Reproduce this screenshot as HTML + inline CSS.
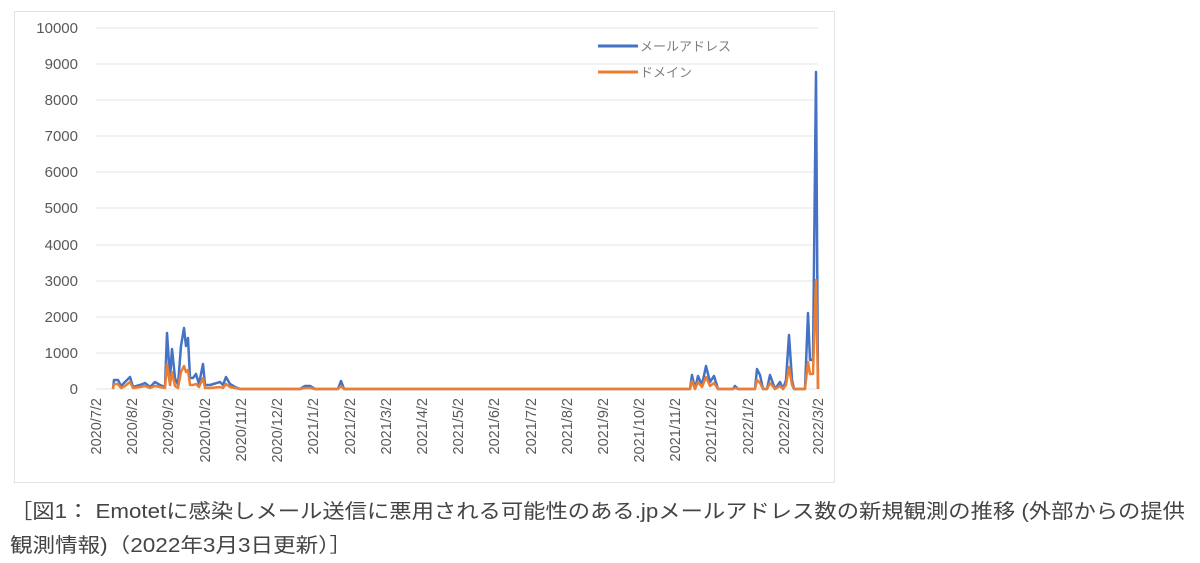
<!DOCTYPE html>
<html><head><meta charset="utf-8"><style>
body{margin:0;background:#fff;width:1200px;height:563px;overflow:hidden;font-family:"Liberation Sans","Noto Sans CJK JP",sans-serif;}
</style></head><body>
<svg width="1200" height="563" style="position:absolute;left:0;top:0" font-family="Liberation Sans, sans-serif">
<rect x="14.5" y="11.5" width="820" height="471" fill="#fff" stroke="#e2e2e2"/>
<g stroke="#e6e6e6" stroke-width="1">
<line x1="96" x2="818" y1="28" y2="28"/><line x1="96" x2="818" y1="64" y2="64"/><line x1="96" x2="818" y1="100" y2="100"/><line x1="96" x2="818" y1="136" y2="136"/><line x1="96" x2="818" y1="172" y2="172"/><line x1="96" x2="818" y1="208" y2="208"/><line x1="96" x2="818" y1="245" y2="245"/><line x1="96" x2="818" y1="281" y2="281"/><line x1="96" x2="818" y1="317" y2="317"/><line x1="96" x2="818" y1="353" y2="353"/><line x1="96" x2="818" y1="389" y2="389"/>
</g>
<g font-size="15" fill="#595959" text-anchor="end">
<text x="78" y="33">10000</text><text x="78" y="69">9000</text><text x="78" y="105">8000</text><text x="78" y="141">7000</text><text x="78" y="177">6000</text><text x="78" y="213">5000</text><text x="78" y="250">4000</text><text x="78" y="286">3000</text><text x="78" y="322">2000</text><text x="78" y="358">1000</text><text x="78" y="394">0</text>
</g>
<g font-size="14.5" fill="#595959" text-anchor="end">
<text transform="translate(101,398) rotate(-90)">2020/7/2</text>
<text transform="translate(137,398) rotate(-90)">2020/8/2</text>
<text transform="translate(173,398) rotate(-90)">2020/9/2</text>
<text transform="translate(210,398) rotate(-90)">2020/10/2</text>
<text transform="translate(246,398) rotate(-90)">2020/11/2</text>
<text transform="translate(282,398) rotate(-90)">2020/12/2</text>
<text transform="translate(318,398) rotate(-90)">2021/1/2</text>
<text transform="translate(355,398) rotate(-90)">2021/2/2</text>
<text transform="translate(391,398) rotate(-90)">2021/3/2</text>
<text transform="translate(427,398) rotate(-90)">2021/4/2</text>
<text transform="translate(463,398) rotate(-90)">2021/5/2</text>
<text transform="translate(499,398) rotate(-90)">2021/6/2</text>
<text transform="translate(536,398) rotate(-90)">2021/7/2</text>
<text transform="translate(572,398) rotate(-90)">2021/8/2</text>
<text transform="translate(608,398) rotate(-90)">2021/9/2</text>
<text transform="translate(644,398) rotate(-90)">2021/10/2</text>
<text transform="translate(680,398) rotate(-90)">2021/11/2</text>
<text transform="translate(716,398) rotate(-90)">2021/12/2</text>
<text transform="translate(753,398) rotate(-90)">2022/1/2</text>
<text transform="translate(789,398) rotate(-90)">2022/2/2</text>
<text transform="translate(823,398) rotate(-90)">2022/3/2</text>
</g>
<polyline fill="none" stroke="#4472c4" stroke-width="2.5" stroke-linejoin="round" points="
113,389 114,380 118,380 121,386 125,382 130,377 133,387 140,385 145,383 150,387 155,382 160,385 165,387 167,333 170,378 172,349 175,378 178,385 181,346 184,328 186,346 188,338 190,378 193,378 196,374 199,384 203,364 205,385 210,385 220,382 223,385 226,377 230,384 235,387 240,389 300,389 305,386 310,386 315,389 338,389 341,381 344,389 690,389 692,375 695,389 698,376 702,385 706,366 710,382 714,376 718,389 733,389 735,386 738,389 755,389 757,369 760,375 763,389 767,389 770,375 775,389 780,382 783,389 786,380 789,335 792,380 794,389 805,389 808,313 810,360 813,360 816,72 818,389"/>
<polyline fill="none" stroke="#ed7d31" stroke-width="2.5" stroke-linejoin="round" points="
113,389 114,384 118,384 121,388 125,386 130,382 133,388 140,387 145,386 150,388 155,386 160,387 165,388 167,364 170,385 172,372 175,386 178,388 181,372 184,366 186,372 188,370 190,385 193,385 196,384 199,387 203,378 205,388 210,388 220,387 223,388 226,384 230,387 235,388 240,389 300,389 305,388 310,388 315,389 338,389 341,386 344,389 690,389 692,381 695,389 698,382 702,387 706,377 710,386 714,383 718,389 733,389 735,388 738,389 755,389 757,380 760,383 763,389 767,389 770,383 775,389 780,386 783,389 786,385 789,367 792,385 794,389 805,389 808,362 810,374 813,374 816,280 818,389"/>
<line x1="598" x2="638" y1="46" y2="46" stroke="#4472c4" stroke-width="3"/>
<line x1="598" x2="638" y1="72" y2="72" stroke="#ed7d31" stroke-width="3"/>
<g font-size="13" fill="#7f7f7f" font-family="Liberation Sans, Noto Sans CJK JP, sans-serif">
<text x="640" y="51">メールアドレス</text>
<text x="640" y="77">ドメイン</text>
</g>
<g font-size="20" fill="#444" font-family="Liberation Sans, Noto Sans CJK JP, sans-serif">
<text x="10" y="518" textLength="1175" lengthAdjust="spacingAndGlyphs">［図1： Emotetに感染しメール送信に悪用される可能性のある.jpメールアドレス数の新規観測の推移 (外部からの提供</text>
<text x="10" y="552" textLength="342" lengthAdjust="spacingAndGlyphs">観測情報)（2022年3月3日更新）］</text>
</g>
</svg>
</body></html>
